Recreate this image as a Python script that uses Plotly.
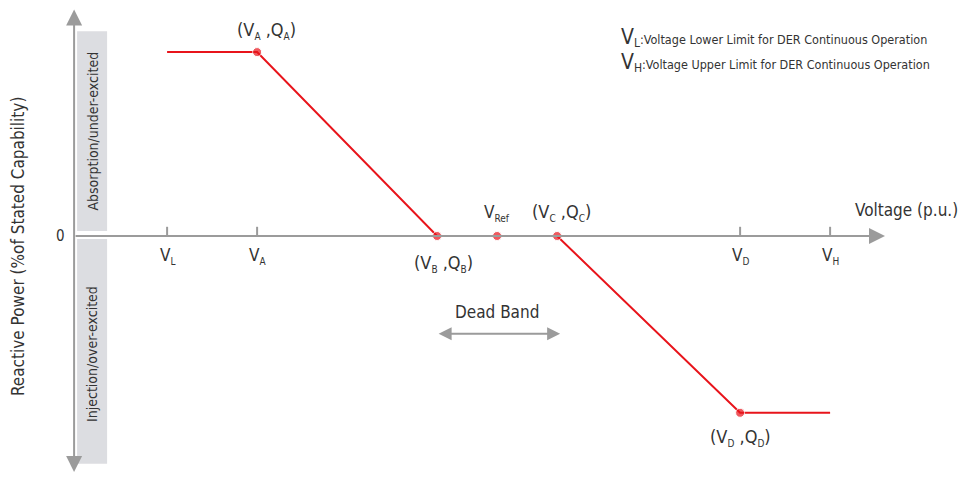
import plotly.graph_objects as go

# volt-var curve points (p.u., % of stated capability)
point_names = ["L", "A", "B", "Ref", "C", "D", "H"]
voltage = [0.89, 0.92, 0.98, 1.00, 1.02, 1.081, 1.111]
reactive = [44.0, 44.0, 0.0, 0.0, 0.0, -42.3, -42.3]

tick_voltage = [0.89, 0.92, 1.081, 1.111]
tick_names = ["L", "A", "D", "H"]

note_names = ["L", "H"]
note_texts = [
    ":Voltage Lower Limit for DER Continuous Operation",
    ":Voltage Upper Limit for DER Continuous Operation",
]

RED = "#e8141b"
GRAY = "#9b9b9b"
TXT = "#333333"
FONT = "DejaVu Sans Condensed"

X_RANGE = [0.8343, 1.1583]
Y_RANGE = [-57.66, 56.46]
X_AXIS0 = 0.859  # where the y axis sits


def sub(s, size=10):
    return f"<sub><span style='font-size:{size}px'>{s}</span></sub>"


def pair(n):
    return f"(V{sub(n)} ,Q{sub(n)})"


fig = go.Figure()

fig.add_trace(go.Scatter(
    x=voltage, y=reactive, mode="lines+markers",
    line=dict(color=RED, width=2),
    marker=dict(color=RED, size=[0, 9, 9, 9, 9, 9, 0]),
    hoverinfo="skip", showlegend=False,
))

shapes = []
# gray bands next to y axis
shapes.append(dict(type="rect", xref="x", yref="y", x0=0.860, x1=0.870, y0=1.2, y1=49.0,
                   fillcolor="#dcdde1", line_width=0, layer="below"))
shapes.append(dict(type="rect", xref="x", yref="y", x0=0.860, x1=0.870, y0=-0.7, y1=-54.5,
                   fillcolor="#dcdde1", line_width=0, layer="below"))
# tick marks
for v in tick_voltage:
    shapes.append(dict(type="line", xref="x", yref="y", x0=v, x1=v, y0=0, y1=2.2,
                       line=dict(color=GRAY, width=2), layer="below"))

annotations = []
# x axis arrow
annotations.append(dict(x=1.1293, y=0, ax=X_AXIS0, ay=0, xref="x", yref="y", axref="x", ayref="y",
                        text="", showarrow=True, arrowhead=2, arrowsize=1.6, arrowwidth=2,
                        arrowcolor=GRAY))
# y axis double arrow
annotations.append(dict(x=X_AXIS0, y=54.2, ax=X_AXIS0, ay=-56.8, xref="x", yref="y", axref="x", ayref="y",
                        text="", showarrow=True, arrowhead=2, startarrowhead=2, arrowside="end+start",
                        arrowsize=1.6, startarrowsize=1.6, arrowwidth=2, arrowcolor=GRAY))
# dead band arrow
annotations.append(dict(x=voltage[4] + 0.001, y=-23.4, ax=voltage[2], ay=-23.4, xref="x", yref="y",
                        axref="x", ayref="y", text="", showarrow=True, arrowhead=2, startarrowhead=2,
                        arrowside="end+start", arrowsize=1.3, startarrowsize=1.3, arrowwidth=2,
                        arrowcolor=GRAY))


def txt(x, y, text, size=16, **kw):
    d = dict(x=x, y=y, xref="x", yref="y", text=text, showarrow=False,
             font=dict(family=FONT, size=size, color=TXT))
    d.update(kw)
    annotations.append(d)


for v, n in zip(tick_voltage, tick_names):
    txt(v, 0, "V" + sub(n), size=17, yshift=-20)

txt(voltage[1] + 0.003, reactive[1], pair("A"), size=18, yshift=22)
txt(voltage[2] + 0.002, reactive[2], pair("B"), size=18, yshift=-28)
txt(voltage[3], reactive[3], "V" + sub("Ref"), size=17, yshift=23)
txt(voltage[4] + 0.0015, reactive[4], pair("C"), size=18, yshift=23)
txt(voltage[5], reactive[5], pair("D"), size=18, yshift=-25)
txt(voltage[3], -18.2, "Dead Band", size=17)
txt(1.1543, 0, "Voltage (p.u.)", size=17, xanchor="right", yshift=26)
txt(0.8565, 0, "0", size=15, xanchor="right")
txt(0.8405, -2.5, "Reactive Power (%of Stated Capability)", size=17, textangle=-90)
txt(0.865, 25.0, "Absorption/under-excited", size=14, textangle=-90)
txt(0.865, -28.2, "Injection/over-excited", size=14, textangle=-90)

for i, (n, t) in enumerate(zip(note_names, note_texts)):
    annotations.append(dict(x=0.637, y=0.952 - i * 0.0524, xref="paper", yref="paper",
                            xanchor="left", showarrow=False,
                            text=f"<span style='font-size:21px'>V</span>{sub(n, 12)}{t}",
                            font=dict(family=FONT, size=12.5, color=TXT)))

fig.update_layout(
    width=972, height=477,
    margin=dict(l=0, r=0, t=0, b=0),
    plot_bgcolor="white", paper_bgcolor="white",
    xaxis=dict(range=X_RANGE, visible=False, fixedrange=True),
    yaxis=dict(range=Y_RANGE, visible=False, fixedrange=True),
    shapes=shapes, annotations=annotations,
    showlegend=False,
)

fig.write_html("out.html", config={"displayModeBar": False},
               post_script="document.body.style.margin='0';")
